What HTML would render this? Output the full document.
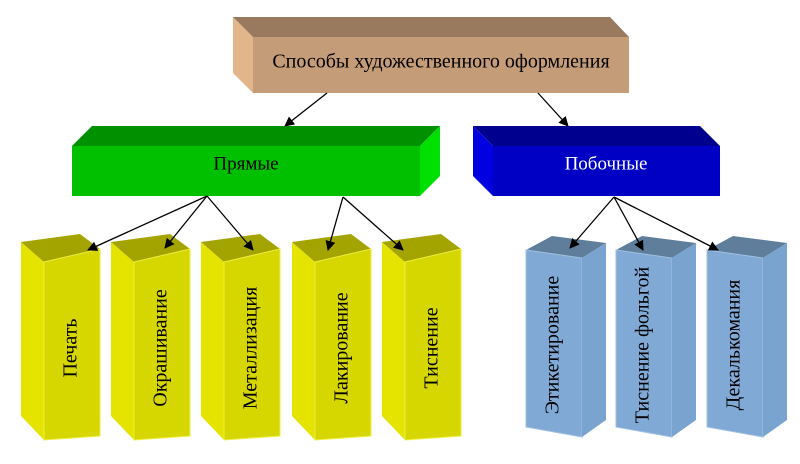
<!DOCTYPE html>
<html><head><meta charset="utf-8"><style>
html,body{margin:0;padding:0;background:#fff;}
svg{display:block;}
text{font-family:"Liberation Serif",serif;}
</style></head><body>
<svg width="800" height="464" viewBox="0 0 800 464" xmlns="http://www.w3.org/2000/svg">
<defs>
<marker id="a" markerWidth="10" markerHeight="10" refX="9" refY="5" orient="auto" markerUnits="userSpaceOnUse">
<path d="M0,0 L10,5 L0,10 Z" fill="#000"/></marker>
<g id="y">
<polygon points="21,242 44,262 44,440 21,416" fill="#e4e400"/>
<polygon points="21,242 80,234 100,249 44,262" fill="#a4a400"/>
<polygon points="44,262 100,249 100,436 44,440" fill="#d6d600" stroke="#eeee40" stroke-width="1"/>
</g>
<g id="b">
<polygon points="526,250 552,236 606,243 582,258" fill="#5f7e9c"/>
<polygon points="526,250 582,258 582,437 526,427" fill="#80a9d5" stroke="#a0c0e0" stroke-width="1"/>
<polygon points="582,258 606,243 606,420 582,437" fill="#7aa4d0"/>
</g>
</defs>
<polygon points="233,17 253,37 253,93 233,73" fill="#e2b68a"/>
<polygon points="233,17 610,17 629,37 253,37" fill="#9a7a5e"/>
<rect x="253" y="37" width="376" height="56" fill="#c49d78"/>
<text x="441" y="63" font-size="20" text-anchor="middle" dominant-baseline="middle">Способы художественного оформления</text>
<polygon points="92,126 440,126 420,146 72,146" fill="#009000"/>
<polygon points="420,146 440,126 440,176 420,196" fill="#00e000"/>
<rect x="72" y="146" width="348" height="50" fill="#00c000"/>
<text x="246" y="165" font-size="19" text-anchor="middle" dominant-baseline="middle">Прямые</text>
<polygon points="473,126 700,126 720,146 493,146" fill="#00008f"/>
<polygon points="473,126 493,146 493,196 473,176" fill="#0000e0"/>
<rect x="493" y="146" width="227" height="50" fill="#0000c4"/>
<text x="606" y="165" font-size="19" fill="#fff" text-anchor="middle" dominant-baseline="middle">Побочные</text>
<use href="#y"/>
<use href="#y" transform="translate(90,0)"/>
<use href="#y" transform="translate(180,0)"/>
<use href="#y" transform="translate(271,0)"/>
<use href="#y" transform="translate(361,0)"/>
<g font-size="20" text-anchor="middle" dominant-baseline="middle">
<text transform="translate(72,348) rotate(-90)">Печать</text>
<text transform="translate(162,348) rotate(-90)">Окрашивание</text>
<text transform="translate(252,348) rotate(-90)">Металлизация</text>
<text transform="translate(343,348) rotate(-90)">Лакирование</text>
<text transform="translate(433,348) rotate(-90)">Тиснение</text>
</g>
<use href="#b"/>
<use href="#b" transform="translate(90,0)"/>
<use href="#b" transform="translate(181,0)"/>
<g font-size="20" text-anchor="middle" dominant-baseline="middle">
<text transform="translate(554,345) rotate(-90)">Этикетирование</text>
<text transform="translate(644,345) rotate(-90)">Тиснение фольгой</text>
<text transform="translate(735,345) rotate(-90)">Декалькомания</text>
</g>
<g stroke="#000" stroke-width="1.3" fill="none" marker-end="url(#a)">
<line x1="327" y1="93" x2="285" y2="126"/>
<line x1="538" y1="93" x2="568" y2="126"/>
<line x1="207" y1="196" x2="88" y2="250"/>
<line x1="207" y1="196" x2="165" y2="248"/>
<line x1="207" y1="196" x2="253" y2="250"/>
<line x1="343" y1="197" x2="328" y2="250"/>
<line x1="343" y1="197" x2="403" y2="250"/>
<line x1="614" y1="197" x2="570" y2="248"/>
<line x1="614" y1="197" x2="643" y2="250"/>
<line x1="614" y1="197" x2="718" y2="250"/>
</g>
</svg>
</body></html>
